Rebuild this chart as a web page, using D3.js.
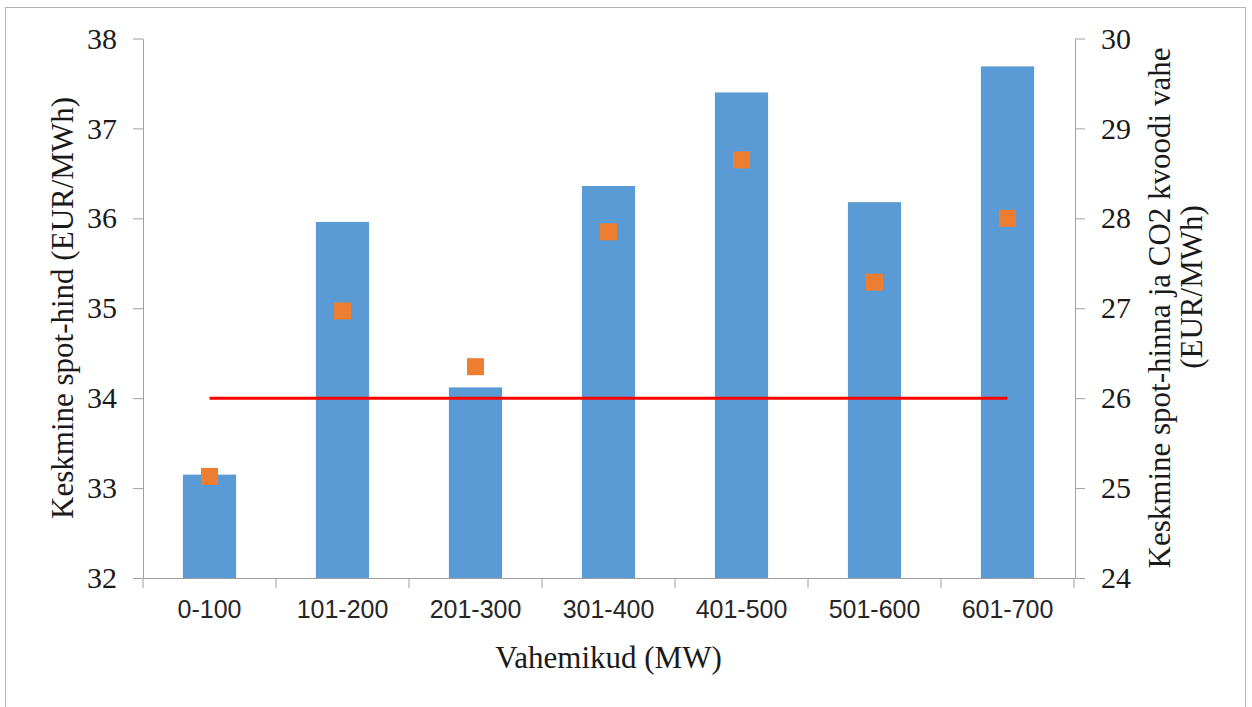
<!DOCTYPE html>
<html>
<head>
<meta charset="utf-8">
<script src="https://cdn.jsdelivr.net/npm/d3@7"></script>
<style>
  html, body { margin: 0; padding: 0; background: #fff; }
  svg { display: block; }
  .serif { font-family: "Liberation Serif", "Times New Roman", "DejaVu Serif", serif; }
  .sans { font-family: "Liberation Sans", Arial, sans-serif; }
</style>
</head>
<body>
<svg id="chart" width="1252" height="707"></svg>
<script>
const categories = ["0-100", "101-200", "201-300", "301-400", "401-500", "501-600", "601-700"];
const spotPrice = [33.15, 35.96, 34.12, 36.36, 37.40, 36.18, 37.69];
const spread = [25.13, 26.97, 26.35, 27.85, 28.65, 27.29, 28.00];
const referenceLevel = 34;
const leftTicks = [32, 33, 34, 35, 36, 37, 38];
const rightTicks = [24, 25, 26, 27, 28, 29, 30];
const xTitle = "Vahemikud (MW)";
const leftTitle = "Keskmine spot-hind (EUR/MWh)";
const rightTitle1 = "Keskmine spot-hinna ja CO2 kvoodi vahe";
const rightTitle2 = "(EUR/MWh)";

const svg = d3.select("#chart");
const plot = { left: 143, right: 1074, top: 38.5, bottom: 578 };
const axisColor = "#a0a0a0";

// outer border
svg.append("rect")
  .attr("x", 5.5).attr("y", 7.5).attr("width", 1240).attr("height", 720)
  .attr("fill", "#fff").attr("stroke", "#b4b4b4").attr("stroke-width", 1);

const x = d3.scaleBand().domain(categories).range([plot.left, plot.right]).padding(0);
const yL = d3.scaleLinear().domain([32, 38]).range([plot.bottom, plot.top]);
const yR = d3.scaleLinear().domain([24, 30]).range([plot.bottom, plot.top]);

const barW = x.bandwidth() * 0.4;

// bars
svg.append("g").selectAll("rect").data(categories).join("rect")
  .attr("x", d => x(d) + (x.bandwidth() - barW) / 2)
  .attr("y", (d, i) => yL(spotPrice[i]))
  .attr("width", barW)
  .attr("height", (d, i) => yL(32) - yL(spotPrice[i]))
  .attr("fill", "#5b9bd5");

// left axis
const gL = svg.append("g").attr("transform", `translate(${plot.left},0)`)
  .call(d3.axisLeft(yL).tickValues(leftTicks).tickSize(10).tickSizeOuter(0).tickPadding(16).tickFormat(d3.format("d")));
gL.attr("font-family", null).attr("font-size", null);
gL.select(".domain").attr("stroke", axisColor);
gL.selectAll(".tick line").attr("stroke", axisColor);
gL.selectAll(".tick text").attr("class", "serif").style("font-size", "30px").attr("fill", "#1a1a1a");

// right axis
const gR = svg.append("g").attr("transform", `translate(${plot.right + 1},0)`)
  .call(d3.axisRight(yR).tickValues(rightTicks).tickSize(10).tickSizeOuter(0).tickPadding(16).tickFormat(d3.format("d")));
gR.attr("font-family", null).attr("font-size", null);
gR.select(".domain").attr("stroke", axisColor);
gR.selectAll(".tick line").attr("stroke", axisColor);
gR.selectAll(".tick text").attr("class", "serif").style("font-size", "30px").attr("fill", "#1a1a1a");

// x axis
const gX = svg.append("g").attr("transform", `translate(0,${plot.bottom})`)
  .call(d3.axisBottom(x).tickSize(0).tickPadding(40));
gX.attr("font-family", null).attr("font-size", null);
gX.select(".domain").attr("stroke", axisColor);
gX.selectAll(".tick text").attr("class", "sans").style("font-size", "25px").attr("fill", "#262626")
  .attr("dy", null).attr("y", 40);
const boundaries = categories.map(c => x(c)).concat([x.range()[1]]);
gX.append("g").selectAll("line").data(boundaries).join("line")
  .attr("x1", d => d).attr("x2", d => d).attr("y1", 0).attr("y2", 10)
  .attr("stroke", axisColor);

// red reference line
const firstC = x(categories[0]) + x.bandwidth() / 2;
const lastC = x(categories[categories.length - 1]) + x.bandwidth() / 2;
svg.append("line")
  .attr("x1", firstC).attr("x2", lastC)
  .attr("y1", yL(referenceLevel)).attr("y2", yL(referenceLevel))
  .attr("stroke", "#ff0000").attr("stroke-width", 3);

// markers (right axis)
const m = 17;
svg.append("g").selectAll("rect").data(categories).join("rect")
  .attr("x", d => x(d) + x.bandwidth() / 2 - m / 2)
  .attr("y", (d, i) => yR(spread[i]) - m / 2)
  .attr("width", m).attr("height", m)
  .attr("fill", "#ed7d31");

// titles
function title(tx, ty, rot, txt) {
  svg.append("text")
    .attr("class", "serif")
    .attr("transform", `translate(${tx},${ty})` + (rot ? " rotate(-90)" : ""))
    .attr("text-anchor", "middle").style("font-size", "31px").attr("fill", "#1a1a1a")
    .text(txt);
}
title((plot.left + plot.right) / 2, 668, false, xTitle);
title(73, 308, true, leftTitle);
title(1170, 308, true, rightTitle1);
title(1202, 287, true, rightTitle2);
</script>
</body>
</html>
